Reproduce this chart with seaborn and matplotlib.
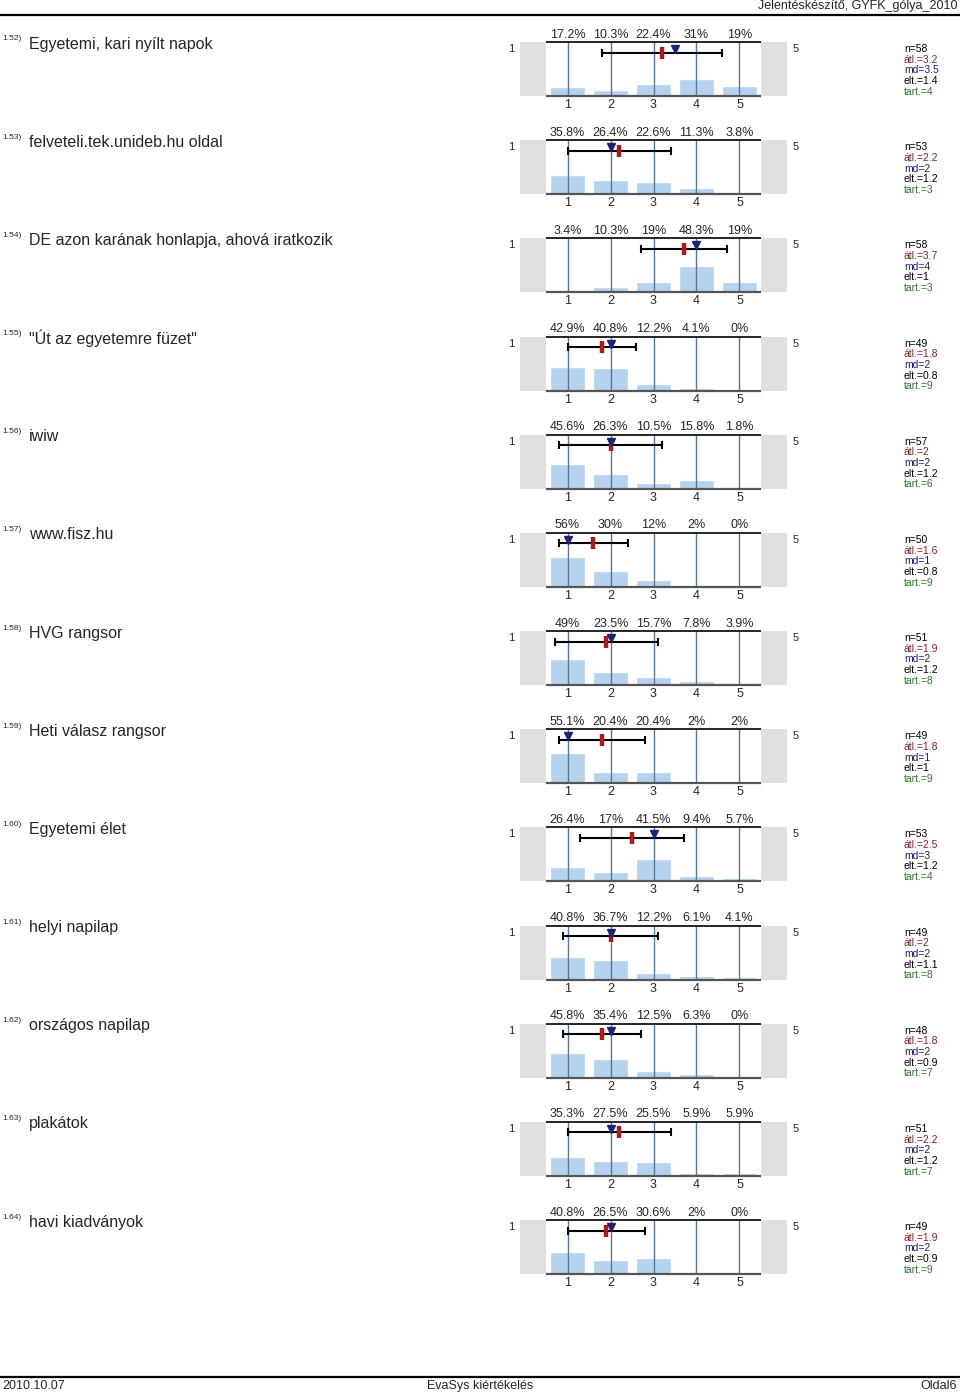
import matplotlib
matplotlib.use("Agg")
import matplotlib.pyplot as plt
import seaborn as sns
import numpy as np

# question numbers, titles and answer shares (%) for the options 1..5
qnums = ["1.52)", "1.53)", "1.54)", "1.55)", "1.56)", "1.57)", "1.58)",
         "1.59)", "1.60)", "1.61)", "1.62)", "1.63)", "1.64)"]
titles = ["Egyetemi, kari nyílt napok", "felveteli.tek.unideb.hu oldal",
          "DE azon karának honlapja, ahová iratkozik", "\"Út az egyetemre füzet\"",
          "iwiw", "www.fisz.hu", "HVG rangsor", "Heti válasz rangsor",
          "Egyetemi élet", "helyi napilap", "országos napilap", "plakátok",
          "havi kiadványok"]
shares = [
    [17.2, 10.3, 22.4, 31, 19],
    [35.8, 26.4, 22.6, 11.3, 3.8],
    [3.4, 10.3, 19, 48.3, 19],
    [42.9, 40.8, 12.2, 4.1, 0],
    [45.6, 26.3, 10.5, 15.8, 1.8],
    [56, 30, 12, 2, 0],
    [49, 23.5, 15.7, 7.8, 3.9],
    [55.1, 20.4, 20.4, 2, 2],
    [26.4, 17, 41.5, 9.4, 5.7],
    [40.8, 36.7, 12.2, 6.1, 4.1],
    [45.8, 35.4, 12.5, 6.3, 0],
    [35.3, 27.5, 25.5, 5.9, 5.9],
    [40.8, 26.5, 30.6, 2, 0],
]
n_vals = [58, 53, 58, 49, 57, 50, 51, 49, 53, 49, 48, 51, 49]
means = [3.2, 2.2, 3.7, 1.8, 2, 1.6, 1.9, 1.8, 2.5, 2, 1.8, 2.2, 1.9]
medians = [3.5, 2, 4, 2, 2, 1, 2, 1, 3, 2, 2, 2, 2]
sds = [1.4, 1.2, 1, 0.8, 1.2, 0.8, 1.2, 1, 1.2, 1.1, 0.9, 1.2, 0.9]
abstain = [4, 3, 3, 9, 6, 9, 8, 9, 4, 8, 7, 7, 9]
options = ["1", "2", "3", "4", "5"]

W, H = 960, 1395
sns.set_theme(style="white")
plt.rcParams["font.family"] = ["Liberation Sans", "DejaVu Sans"]

fig = plt.figure(figsize=(W / 100, H / 100), dpi=100)


def ftxt(x, y, s, **kw):
    fig.text(x / W, 1 - y / H, s, **kw)


BAR = "#b5d3ee"
VLINE = "#56789a"
GRAY = "#e0e0e0"
step = 98.17
box_h = 54

# header / footer
ftxt(957, 6.5, "Jelentéskészítő, GYFK_gólya_2010", ha="right", va="center", fontsize=9)
fig.add_artist(plt.Line2D([0, 1], [1 - 15 / H, 1 - 15 / H], color="black", lw=1.6))
fig.add_artist(plt.Line2D([0, 1], [1 - 1377 / H, 1 - 1377 / H], color="black", lw=1.6))
ftxt(2, 1386, "2010.10.07", ha="left", va="center", fontsize=9)
ftxt(480, 1386, "EvaSys kiértékelés", ha="center", va="center", fontsize=9)
ftxt(957, 1386, "Oldal6", ha="right", va="center", fontsize=9)

for k in range(len(titles)):
    top = 42 + k * step
    ftxt(2, top - 3, qnums[k], ha="left", va="center", fontsize=6)
    ftxt(29, top + 2, titles[k], ha="left", va="center", fontsize=11.5)

    ax = fig.add_axes([520 / W, 1 - (top + box_h) / H, 267 / W, box_h / H])
    vals = np.array(shares[k]) / 100
    sns.barplot(x=options, y=vals, color=BAR, width=0.8, saturation=1,
                ax=ax, zorder=1)
    ax.set_xlim(-1.105, 5.105)
    ax.set_ylim(0, 1)
    ax.axvspan(-1.105, -0.5, color=GRAY, lw=0, zorder=0)
    ax.axvspan(4.5, 5.105, color=GRAY, lw=0, zorder=0)
    ax.vlines(range(5), 0, 1, color=VLINE, lw=1, zorder=2)
    ax.hlines(1, -0.5, 4.5, color="black", lw=1.2, zorder=3, clip_on=False)
    ax.hlines(0, -0.5, 4.5, color="#555555", lw=1.6, zorder=3, clip_on=False)
    for i, v in enumerate(shares[k]):
        ax.text(i, 1 + 7.5 / box_h, f"{v:g}%", ha="center", va="center",
                fontsize=9, clip_on=False)
        ax.text(i, -9 / box_h, options[i], ha="center", va="center",
                fontsize=9, clip_on=False)
    ey = 1 - 10.5 / box_h
    ax.errorbar(means[k] - 1, ey, xerr=sds[k], color="black", lw=1.5,
                capsize=3, capthick=1.5, zorder=4)
    ax.plot(means[k] - 1, ey, marker="|", ms=9, mew=3.2, color="#b01818",
            zorder=5)
    ax.plot(medians[k] - 1, 1 - 7 / box_h, marker="v", ms=5.5, color="#1a237e",
            mec="#1a237e", zorder=6)
    ax.set_axis_off()

    ftxt(511, top + 7, "1", ha="center", va="center", fontsize=8)
    ftxt(796, top + 7, "5", ha="center", va="center", fontsize=8)

    stats = [(f"n={n_vals[k]}", "black"), (f"átl.={means[k]:g}", "#8b2323"),
             (f"md={medians[k]:g}", "#1c1c80"), (f"elt.={sds[k]:g}", "black"),
             (f"tart.={abstain[k]}", "#2b7a2b")]
    for j, (s, c) in enumerate(stats):
        ftxt(904, top + 7 + j * 10.7, s, ha="left", va="center", fontsize=7.5,
             color=c)

fig.savefig("out.png", dpi=100)
